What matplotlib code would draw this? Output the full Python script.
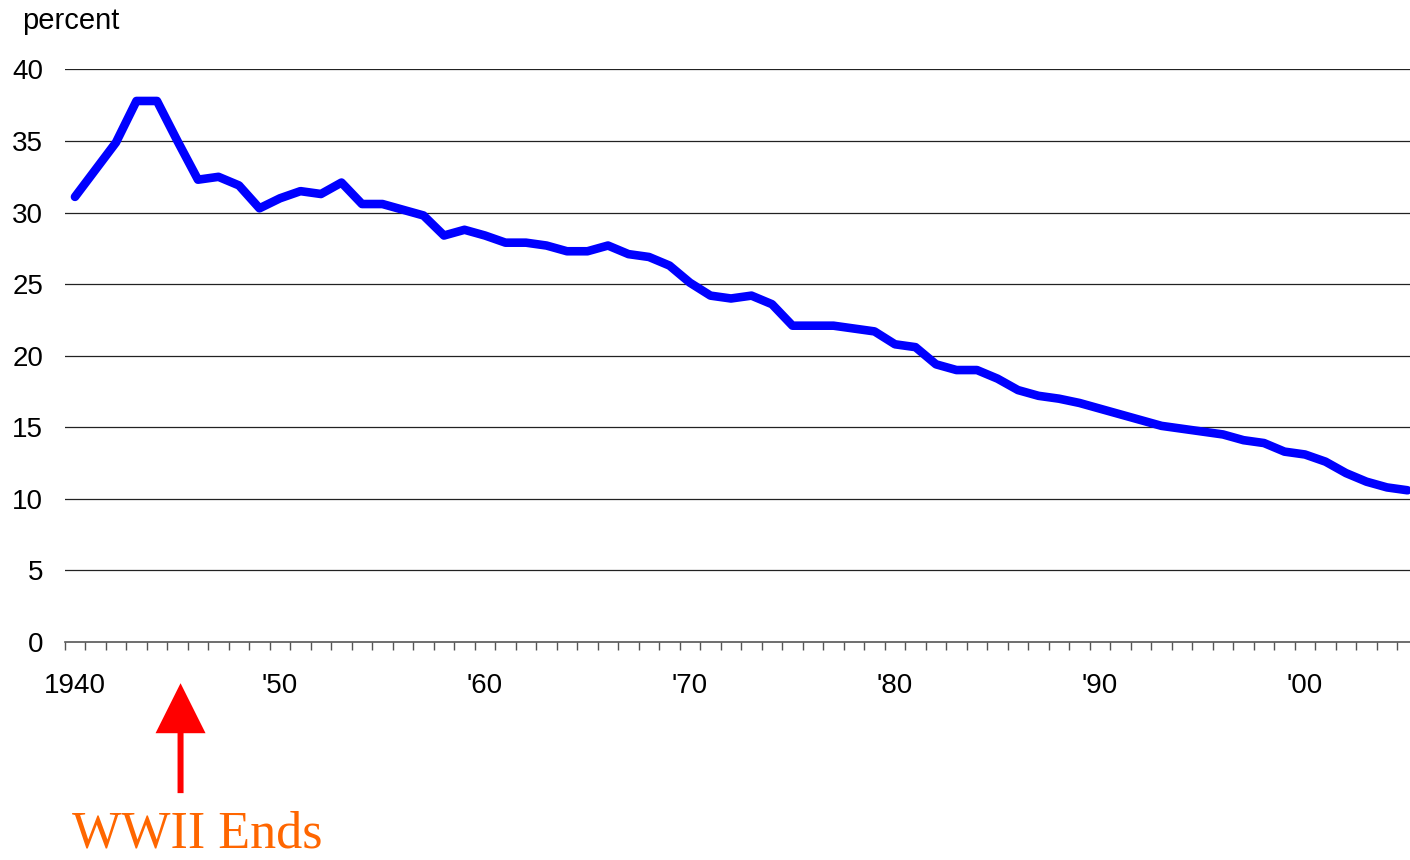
import numpy as np
import matplotlib
matplotlib.use('Agg')
import matplotlib.pyplot as plt

# data (percent, 1940-2005)
years = np.arange(1940, 2006)
values = [31.1, 33.0, 34.9, 37.8, 37.8, 35.0, 32.3, 32.5, 31.9, 30.3,
          31.0, 31.5, 31.3, 32.1, 30.6, 30.6, 30.2, 29.8, 28.4, 28.8,
          28.4, 27.9, 27.9, 27.7, 27.3, 27.3, 27.7, 27.1, 26.9, 26.3,
          25.1, 24.2, 24.0, 24.2, 23.6, 22.1, 22.1, 22.1, 21.9, 21.7,
          20.8, 20.6, 19.4, 19.0, 19.0, 18.4, 17.6, 17.2, 17.0, 16.7,
          16.3, 15.9, 15.5, 15.1, 14.9, 14.7, 14.5, 14.1, 13.9, 13.3,
          13.1, 12.6, 11.8, 11.2, 10.8, 10.6]
label_years = [1940, 1950, 1960, 1970, 1980, 1990, 2000]
label_text = ['1940', "'50", "'60", "'70", "'80", "'90", "'00"]
y_ticks = [0, 5, 10, 15, 20, 25, 30, 35, 40]

plt.rcParams['font.family'] = ['Liberation Sans', 'DejaVu Sans']

fig = plt.figure(figsize=(14.1, 8.6), dpi=100)
ax = fig.add_axes([0.0459, 0.2535, 0.9596, 0.6657])

ax.plot(years, values, color='#0000FF', lw=6.2,
        solid_capstyle='round', solid_joinstyle='round', zorder=3)

ax.set_xlim(1939.5, 2005.5)
ax.set_ylim(0, 40)

# horizontal grid
for y in y_ticks[1:]:
    ax.axhline(y, color='#222222', lw=0.9, zorder=1)

for s in ['top', 'right', 'left']:
    ax.spines[s].set_visible(False)
ax.spines['bottom'].set_color('#555555')
ax.spines['bottom'].set_linewidth(1.2)

ax.set_yticks(y_ticks)
ax.tick_params(axis='y', length=0, pad=15.5, labelsize=20)

ax.set_xticks(label_years)
ax.set_xticklabels(label_text)
ax.set_xticks(np.arange(1939.5, 2006, 1), minor=True)
ax.tick_params(axis='x', which='major', length=0, pad=22, labelsize=20)
ax.tick_params(axis='x', which='minor', length=6, width=1, color='#555555',
               direction='out')

fig.text(22 / 1410, 1 - 29 / 860, 'percent', fontsize=21, va='baseline')

# WWII annotation
ax.annotate('', xy=(1945.15, -0.072), xycoords=('data', 'axes fraction'),
            xytext=(1945.15, -0.264), textcoords=('data', 'axes fraction'),
            arrowprops=dict(arrowstyle='simple,head_length=1.0,head_width=1.0,tail_width=0.12',
                            mutation_scale=36, fc='#FF0000', ec='none', lw=0,
                            shrinkA=0, shrinkB=0),
            annotation_clip=False)
fig.text(72 / 1410, 1.5 / 860, 'WWII Ends', fontsize=37.5, color='#FF6600',
         family=['Liberation Serif', 'DejaVu Serif'], va='bottom')

fig.savefig('out.png', dpi=100)
